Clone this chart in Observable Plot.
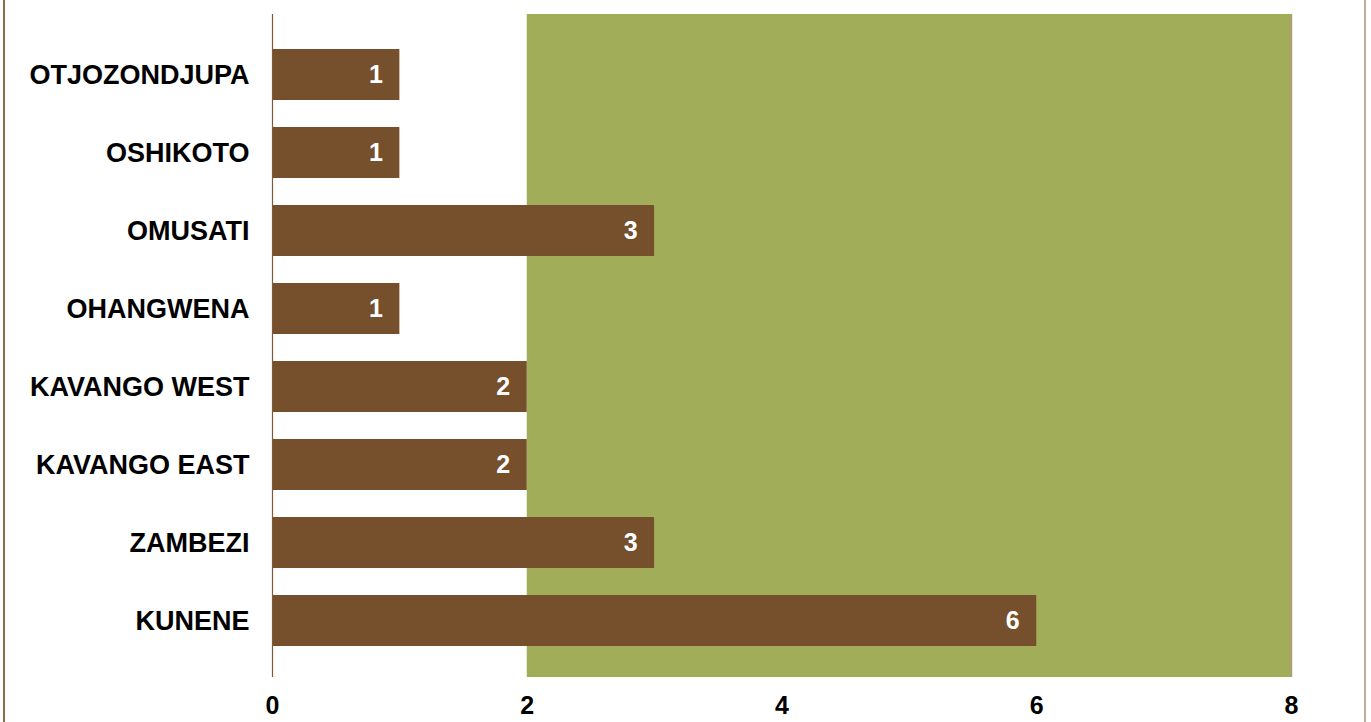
<!DOCTYPE html>
<html>
<head>
<meta charset="utf-8">
<script src="https://cdn.jsdelivr.net/npm/d3@7"></script>
<script src="https://cdn.jsdelivr.net/npm/@observablehq/plot@0.6"></script>
<style>
  html, body { margin: 0; padding: 0; background: #fff; }
  #wrap { position: relative; width: 1371px; height: 722px; overflow: hidden; }
  #frame { position: absolute; left: 3px; top: -2px; width: 1363px; height: 730px;
           border-left: 2px solid #8c6c50; border-right: 2px solid #c2ad98; box-sizing: border-box; pointer-events: none; }
  svg { font-family: "Liberation Sans", Arial, Helvetica, sans-serif; }
</style>
</head>
<body>
<div id="wrap"><div id="frame"></div></div>
<script>
const regions = ["OTJOZONDJUPA", "OSHIKOTO", "OMUSATI", "OHANGWENA", "KAVANGO WEST", "KAVANGO EAST", "ZAMBEZI", "KUNENE"];
const counts = [1, 1, 3, 1, 2, 2, 3, 6];
const xTicks = [0, 2, 4, 6, 8];
const bandStart = 2;
const bandEnd = 8;

const data = regions.map((r, i) => ({region: r, count: counts[i]}));

const chart = Plot.plot({
  width: 1371,
  height: 722,
  marginTop: 14,
  marginBottom: 45,
  marginLeft: 272,
  marginRight: 80,
  style: {fontFamily: '"Liberation Sans", Arial, sans-serif', background: "transparent"},
  x: {domain: [0, 8], ticks: xTicks, tickSize: 0, tickPadding: 19, label: null},
  y: {domain: regions, range: [20, 675], padding: 0.34, tickSize: 0, tickPadding: 23, label: null},
  marks: [
    Plot.rectX([{x1: bandStart, x2: bandEnd}], {x1: "x1", x2: "x2", fill: "#a2ad5a"}),
    Plot.barX(data, {y: "region", x: "count", fill: "#76502c"}),
    Plot.ruleX([0], {stroke: "#7d5a3a", strokeWidth: 1.2}),
    Plot.ruleX([8], {stroke: "#b59a7c", strokeWidth: 1.5}),
    Plot.text(data, {y: "region", x: "count", text: d => String(d.count), textAnchor: "end", dx: -17,
      fill: "white", fontSize: 25, fontWeight: "bold"}),
    Plot.axisX({ticks: xTicks, tickSize: 0, tickPadding: 19, fontSize: 25, fontWeight: "bold", fill: "black", label: null}),
    Plot.axisY({tickSize: 0, tickPadding: 23, fontSize: 27, fontWeight: "bold", fill: "black", label: null})
  ]
});
document.getElementById("wrap").prepend(chart);
</script>
</body>
</html>
